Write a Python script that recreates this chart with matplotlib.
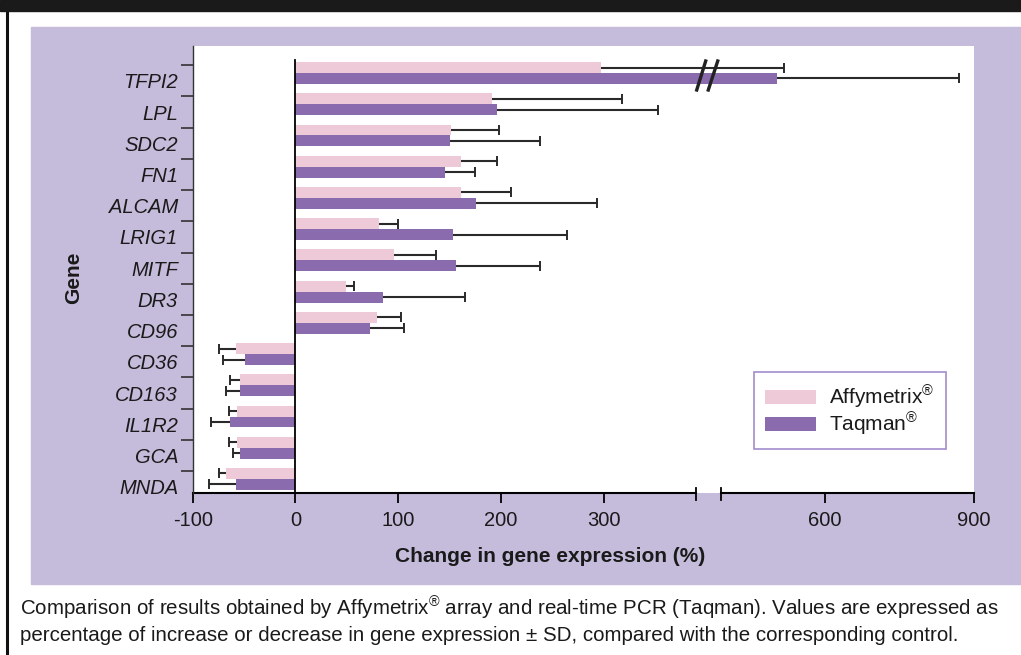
import numpy as np
import matplotlib
matplotlib.use("Agg")
import matplotlib.pyplot as plt
from matplotlib.lines import Line2D
from matplotlib.patches import Rectangle

plt.rcParams["font.family"] = ["Liberation Sans", "DejaVu Sans"]
plt.rcParams["mathtext.fontset"] = "custom"
plt.rcParams["mathtext.rm"] = "Liberation Sans"
plt.rcParams["mathtext.it"] = "Liberation Sans:italic"
plt.rcParams["mathtext.bf"] = "Liberation Sans:bold"

# ------------------------------------------------------------------ data
genes = ["TFPI2", "LPL", "SDC2", "FN1", "ALCAM", "LRIG1", "MITF", "DR3",
         "CD96", "CD36", "CD163", "IL1R2", "GCA", "MNDA"]
affy = [297, 191, 151, 161, 161, 81, 96, 49, 79, -58, -54, -57, -57, -68]
affy_sd = [220, 127, 47, 35, 49, 19, 41, 8, 24, 16, 10, 8, 8, 6]
taq = [503, 196, 150, 145, 176, 153, 156, 85, 72, -49, -54, -64, -54, -58]
taq_sd = [366, 157, 88, 30, 117, 111, 82, 80, 34, 22, 14, 18, 7, 26]
xticks = [-100, 0, 100, 200, 300, 600, 900]

PINK = "#EEC9D8"
PURPLE = "#8A6BAE"
PANEL = "#C5BBDB"
INK = "#1a1a1a"

# broken x axis: linear up to 390, then compressed
BRK, GAP, K = 390.0, 23.7, 0.483


def fwd(v):
    v = np.asarray(v, dtype=float)
    return np.where(v <= BRK, v, BRK + GAP + (v - BRK) * K)


def inv(u):
    u = np.asarray(u, dtype=float)
    return np.where(u <= BRK, u,
                    np.where(u < BRK + GAP, BRK, BRK + (u - BRK - GAP) / K))


W, H = 1021, 655
fig = plt.figure(figsize=(W / 100, H / 100), dpi=100)

# frame pieces (behind the axes)
fig.patches.append(Rectangle((0, 1 - 11 / H), 1, 11 / H, transform=fig.transFigure,
                             color="#1a1a1a", zorder=-10))
fig.patches.append(Rectangle((31 / W, 1 - 584 / H), 1 - 31 / W, (584 - 27) / H,
                             transform=fig.transFigure, color=PANEL, zorder=-10))
fig.lines.append(Line2D([6.5 / W, 6.5 / W], [0, 1 - 11 / H], transform=fig.transFigure,
                        color="#111111", lw=2.2, zorder=-10))

ax_l, ax_r, ax_t, ax_b = 192.7, 974.0, 46.0, 492.7
ax = fig.add_axes([ax_l / W, 1 - ax_b / H, (ax_r - ax_l) / W, (ax_b - ax_t) / H])
ax.set_zorder(1)
ax.set_facecolor("white")
ax.set_xscale("function", functions=(fwd, inv))
ax.set_xlim(-100, 900)

y = np.arange(len(genes))
ax.set_ylim(13.44, -0.865)

bh = 0.35
b1 = ax.barh(y - bh / 2, affy, height=bh, color=PINK, label="Affymetrix$^{\\mathrm{®}}$", zorder=2)
b2 = ax.barh(y + bh / 2, taq, height=bh, color=PURPLE, label="Taqman$^{\\mathrm{®}}$", zorder=2)

# one-sided error bars (away from zero)
for vals, sds, yy in ((affy, affy_sd, y - bh / 2), (taq, taq_sd, y + bh / 2)):
    vals = np.asarray(vals, float)
    ends = vals + np.sign(vals) * np.asarray(sds, float)
    ax.hlines(yy, vals, ends, color="#2a2a2a", lw=1.5, zorder=3)
    ax.plot(ends, yy, ls="none", marker="|", ms=7, mew=1.4, color="#2a2a2a", zorder=3)

# zero line
ax.axvline(0, ymin=0, ymax=(ax_b - 60) / (ax_b - ax_t), color="black", lw=1.3, zorder=4)

# spines
for s in ("top", "right", "bottom"):
    ax.spines[s].set_visible(False)
ax.spines["left"].set_color("#333333")
ax.spines["left"].set_linewidth(1.0)

x0, x1 = fwd(-100), fwd(900)
fa = float((fwd(BRK) - x0) / (x1 - x0))
fb = float((BRK + GAP - x0) / (x1 - x0))
ax.plot([0, fa], [0, 0], transform=ax.transAxes, color="black", lw=1.5, clip_on=False)
ax.plot([fb, 1], [0, 0], transform=ax.transAxes, color="black", lw=1.5, clip_on=False)
for f in (fa, fb):
    ax.plot([f, f], [0.0105, -0.0163], transform=ax.transAxes, color="black",
            lw=1.3, clip_on=False)

# break marks on the TFPI2 bar
ax.plot([0.6566, 0.6451], [0.9664, 0.9015], transform=ax.transAxes, color="#222222", lw=2.4, zorder=5)
ax.plot([0.6720, 0.6599], [0.9664, 0.9015], transform=ax.transAxes, color="#222222", lw=2.4, zorder=5)

# x ticks
ax.set_xticks(xticks)
ax.set_xticklabels([str(t) for t in xticks])
ax.xaxis.set_minor_locator(matplotlib.ticker.NullLocator())
ax.tick_params(axis="x", direction="out", length=7, width=1.3, color="black",
               labelsize=14.5, pad=6, labelcolor=INK)

# y ticks: labels between tick marks
ax.set_yticks(y + 0.25)
ax.set_yticklabels(genes, fontstyle="italic")
ax.set_yticks(y - 0.25, minor=True)
ax.tick_params(axis="y", which="major", length=0, pad=10.5, labelsize=14.5, labelcolor=INK)
ax.tick_params(axis="y", which="minor", direction="out", length=9, width=1.2, color="#333333")

leg = ax.legend(handles=[b1, b2], loc="upper left", bbox_to_anchor=(0.7184, 0.270),
                borderaxespad=0, frameon=True, fancybox=False, fontsize=15,
                handlelength=2.45, handleheight=0.62, handletextpad=0.6,
                borderpad=0.55, labelspacing=0.0)
leg.get_frame().set_edgecolor("#8C6FBF")
leg.get_frame().set_linewidth(1.2)
for t in leg.get_texts():
    t.set_color(INK)

fig.text(550 / W, 1 - 557 / H, "Change in gene expression (%)", ha="center", va="center",
         fontsize=15, fontweight="bold", color=INK)
fig.text(74 / W, 1 - 278 / H, "Gene", ha="center", va="center", rotation=90,
         fontsize=15, fontweight="bold", color=INK)

fig.text(20 / W, 1 - 616 / H,
         "Comparison of results obtained by Affymetrix$^{\\mathrm{®}}$ array and real-time PCR "
         "(Taqman). Values are expressed as",
         ha="left", va="baseline", fontsize=14.8, color=INK)
fig.text(20 / W, 1 - 641 / H,
         "percentage of increase or decrease in gene expression \u00b1 SD, compared with the "
         "corresponding control.",
         ha="left", va="baseline", fontsize=14.8, color=INK)

fig.savefig("out.png", dpi=100, facecolor="white")
